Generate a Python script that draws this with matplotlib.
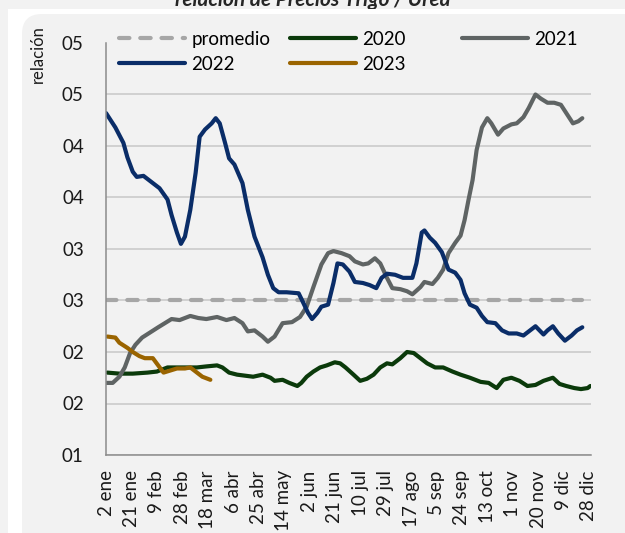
import matplotlib
matplotlib.use('Agg')
import matplotlib.pyplot as plt
from matplotlib.patches import FancyBboxPatch, Rectangle
from matplotlib.lines import Line2D

plt.rcParams['font.family'] = ['Lato', 'DejaVu Sans']

# dias desde el 2 de enero (eje de fechas) y relación trigo / urea
dias_2020 = [1, 10, 20, 31, 38, 46, 53, 60, 68, 75, 83, 87, 92, 98, 104, 110, 117, 123, 126, 132,
             137, 143, 146, 150, 155, 160, 165, 171, 175, 179, 185, 190, 195, 200, 205, 210, 214,
             220, 225, 230, 235, 240, 246, 252, 259, 265, 272, 280, 286, 292, 297, 303, 309, 315,
             321, 327, 334, 339, 344, 350, 355, 360, 362]
rel_2020 = [0.180, 0.179, 0.179, 0.180, 0.181, 0.185, 0.185, 0.185, 0.185, 0.186, 0.187, 0.185,
            0.180, 0.178, 0.177, 0.176, 0.178, 0.175, 0.172, 0.173, 0.170, 0.167, 0.170, 0.176,
            0.181, 0.185, 0.187, 0.190, 0.189, 0.185, 0.178, 0.172, 0.174, 0.178, 0.185, 0.189,
            0.188, 0.194, 0.200, 0.199, 0.194, 0.189, 0.185, 0.185, 0.181, 0.178, 0.175, 0.171,
            0.170, 0.165, 0.173, 0.175, 0.172, 0.167, 0.168, 0.172, 0.175, 0.169, 0.167, 0.165,
            0.164, 0.165, 0.167]

dias_2021 = [0, 5, 10, 14, 18, 22, 27, 33, 39, 44, 49, 55, 63, 69, 75, 83, 90, 96, 102, 106, 111,
             117, 121, 126, 132, 139, 145, 150, 155, 161, 166, 170, 176, 182, 186, 192, 196, 201,
             205, 210, 214, 220, 225, 229, 235, 238, 244, 248, 252, 256, 261, 265, 268, 271, 274,
             277, 281, 285, 288, 293, 297, 303, 307, 312, 316, 321, 325, 330, 335, 340, 345, 349,
             353, 356]
rel_2021 = [0.170, 0.170, 0.176, 0.185, 0.199, 0.207, 0.214, 0.219, 0.224, 0.228, 0.232, 0.231,
            0.235, 0.233, 0.232, 0.234, 0.231, 0.233, 0.228, 0.220, 0.221, 0.215, 0.210, 0.215,
            0.228, 0.229, 0.234, 0.244, 0.263, 0.285, 0.296, 0.298, 0.296, 0.293, 0.288, 0.285,
            0.286, 0.291, 0.286, 0.272, 0.262, 0.261, 0.259, 0.256, 0.263, 0.268, 0.266, 0.272,
            0.280, 0.296, 0.306, 0.313, 0.328, 0.348, 0.367, 0.396, 0.418, 0.427, 0.422, 0.411,
            0.417, 0.421, 0.422, 0.428, 0.437, 0.450, 0.446, 0.442, 0.442, 0.440, 0.430, 0.422,
            0.424, 0.427]

dias_2022 = [0, 7, 13, 16, 20, 23, 28, 33, 40, 46, 49, 53, 56, 59, 63, 67, 70, 74, 79, 82, 85, 89,
             92, 96, 102, 106, 111, 117, 121, 125, 129, 135, 144, 147, 151, 154, 158, 161, 166,
             170, 173, 177, 182, 186, 192, 197, 202, 206, 210, 216, 222, 229, 232, 236, 238, 242,
             246, 251, 256, 261, 265, 268, 272, 277, 281, 285, 291, 296, 301, 307, 312, 316, 321,
             327, 330, 334, 338, 343, 348, 352, 356]
rel_2022 = [0.432, 0.418, 0.403, 0.389, 0.375, 0.370, 0.371, 0.366, 0.359, 0.348, 0.333, 0.316,
            0.305, 0.312, 0.338, 0.374, 0.409, 0.416, 0.422, 0.427, 0.422, 0.403, 0.388, 0.382,
            0.364, 0.338, 0.312, 0.292, 0.275, 0.262, 0.258, 0.258, 0.257, 0.249, 0.238, 0.232,
            0.238, 0.244, 0.246, 0.267, 0.286, 0.285, 0.278, 0.268, 0.267, 0.265, 0.262, 0.272,
            0.276, 0.275, 0.272, 0.272, 0.286, 0.316, 0.318, 0.311, 0.306, 0.297, 0.280, 0.277,
            0.270, 0.257, 0.246, 0.243, 0.235, 0.229, 0.228, 0.221, 0.218, 0.218, 0.216, 0.220,
            0.225, 0.217, 0.221, 0.225, 0.218, 0.211, 0.216, 0.221, 0.224]

dias_2023 = [1, 7, 10, 16, 20, 25, 29, 35, 39, 43, 48, 53, 59, 63, 68, 72, 78]
rel_2023 = [0.215, 0.214, 0.209, 0.204, 0.200, 0.196, 0.194, 0.194, 0.187, 0.180, 0.182, 0.184,
            0.184, 0.185, 0.180, 0.176, 0.173]

dias_prom = [0, 356]
rel_prom = [0.25, 0.25]

x_ticks = list(range(0, 362, 19))
x_labels = ['2 ene', '21 ene', '9 feb', '28 feb', '18 mar', '6 abr', '25 abr', '14 may', '2 jun',
            '21 jun', '10 jul', '29 jul', '17 ago', '5 sep', '24 sep', '13 oct', '1 nov',
            '20 nov', '9 dic', '28 dic']
y_ticks = [0.10, 0.15, 0.20, 0.25, 0.30, 0.35, 0.40, 0.45, 0.50]
y_labels = ['01', '02', '02', '03', '03', '04', '04', '05', '05']

c_prom = '#a6a6a6'
c20 = '#0b3a0b'
c21 = '#5f6464'
c22 = '#0a2d68'
c23 = '#9a6400'
lw = 3.0

fig = plt.figure(figsize=(6.25, 5.33), dpi=100, facecolor='#f2f2f2')
fig.text(0.5, 1 - 6 / 533, 'relación de Precios Trigo / Urea', ha='center', va='baseline',
         fontsize=15, style='italic', fontweight='bold', color='#262626', zorder=-3)
fig.patches.append(Rectangle((0.08, -0.1), 7, 5.34, transform=fig.dpi_scale_trans,
                             facecolor='white', edgecolor='none', zorder=-2))
fig.patches.append(FancyBboxPatch((0.22, -0.5), 7, 5.69, boxstyle='round,pad=0,rounding_size=0.2',
                                  transform=fig.dpi_scale_trans, facecolor='#f2f2f2',
                                  edgecolor='none', zorder=-1))

ax = fig.add_axes([106 / 625, 78 / 533, 485 / 625, 412 / 533])
ax.set_facecolor('none')

ax.plot(dias_prom, rel_prom, color=c_prom, lw=lw, dashes=(2.5, 2.6), dash_capstyle='round')
ax.plot(dias_2020, rel_2020, color=c20, lw=lw, solid_capstyle='round', solid_joinstyle='round')
ax.plot(dias_2021, rel_2021, color=c21, lw=lw, solid_capstyle='round', solid_joinstyle='round')
ax.plot(dias_2022, rel_2022, color=c22, lw=lw, solid_capstyle='round', solid_joinstyle='round')
ax.plot(dias_2023, rel_2023, color=c23, lw=lw, solid_capstyle='round', solid_joinstyle='round')

ax.set_xlim(0, 362.5)
ax.set_ylim(0.10, 0.50)
ax.set_yticks(y_ticks)
ax.set_yticklabels(y_labels)
ax.set_xticks(x_ticks)
ax.set_xticklabels(x_labels, rotation=90)
ax.tick_params(axis='y', length=0, pad=16, labelsize=13.5, colors='#1a1a1a')
ax.tick_params(axis='x', length=0, pad=11, labelsize=13.5, colors='#1a1a1a')
ax.grid(axis='y', color='#c8c8c8', lw=1.1)
ax.set_axisbelow(True)
ax.get_ygridlines()[-1].set_visible(False)
for s in ['top', 'right']:
    ax.spines[s].set_visible(False)
for s in ['left', 'bottom']:
    ax.spines[s].set_color('#8c8c8c')
    ax.spines[s].set_linewidth(1.1)

fig.text(38 / 625, 1 - 25 / 533, 'relación', rotation=90, ha='center', va='top',
         fontsize=12, color='#1a1a1a')

# leyenda en tres columnas de igual ancho
def handle(c, **kw):
    return Line2D([], [], color=c, lw=lw, solid_capstyle='round', **kw)

h_prom = Line2D([], [], color=c_prom, lw=lw, dashes=(2.5, 2.6), dash_capstyle='round')
cols = [([h_prom, handle(c22)], ['promedio', '2022'], 119),
        ([handle(c20), handle(c23)], ['2020', '2023'], 290),
        ([handle(c21)], ['2021'], 462)]
for hs, labs, xpx in cols:
    fig.legend(handles=hs, labels=labs, loc='upper left', bbox_to_anchor=(xpx / 625, 1 - 31 / 533),
               frameon=False, borderpad=0, borderaxespad=0, handlelength=3.5,
               handletextpad=0.35, labelspacing=0.42, fontsize=13.5)

fig.savefig('out.png', dpi=100, facecolor=fig.get_facecolor())
